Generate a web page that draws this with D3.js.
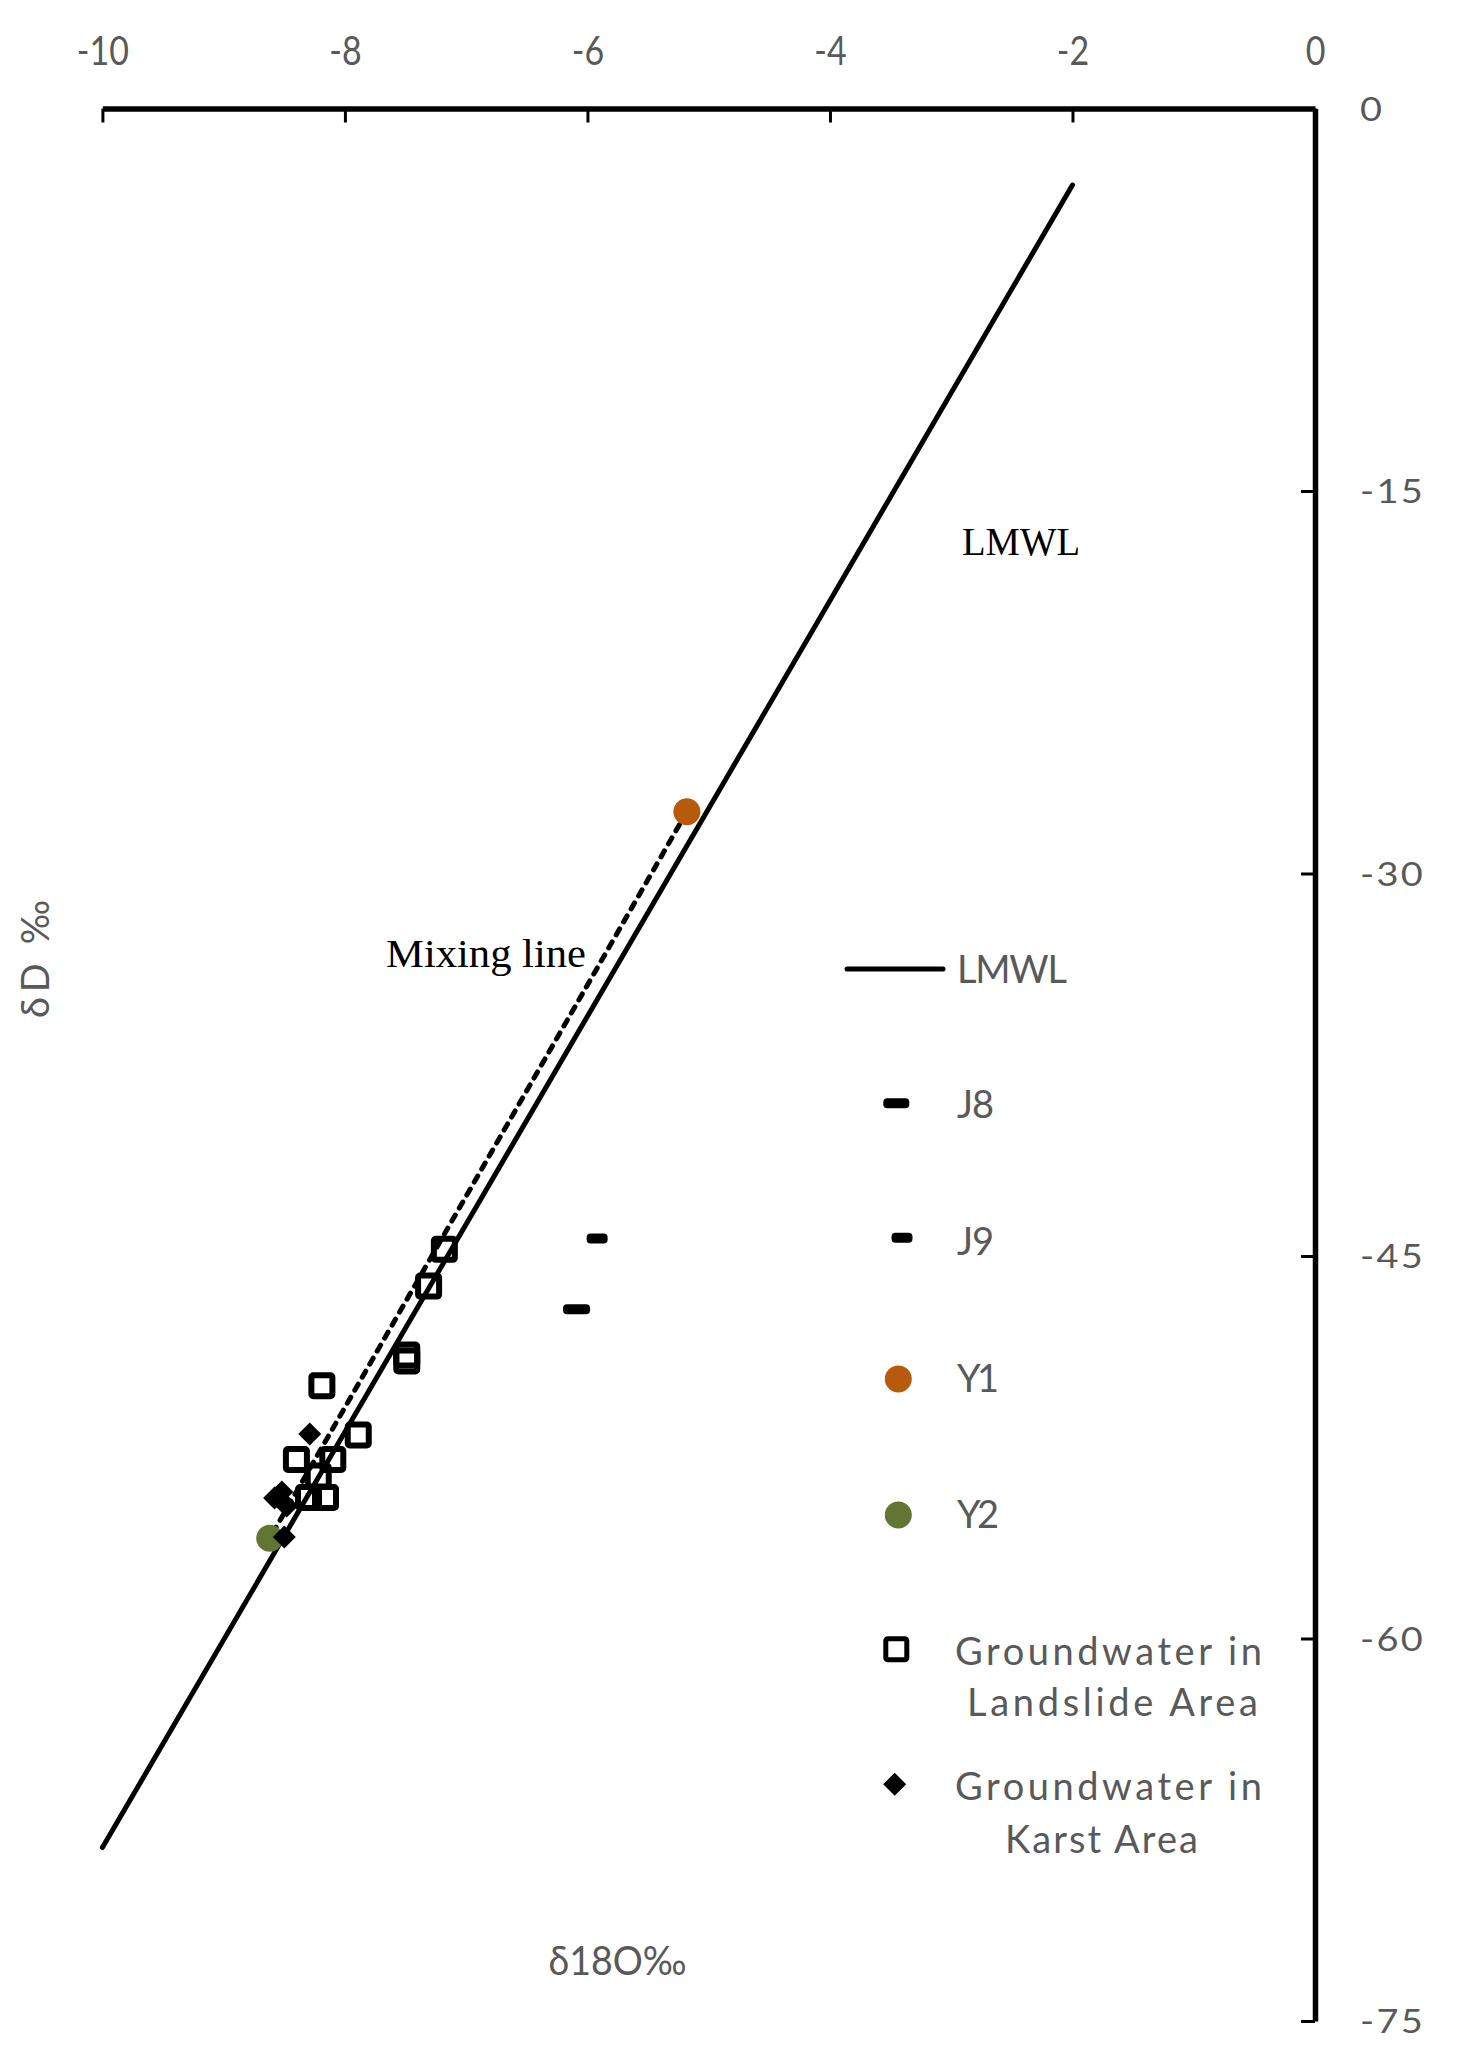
<!DOCTYPE html>
<html>
<head>
<meta charset="utf-8">
<script src="https://cdn.jsdelivr.net/npm/d3@7"></script>
<style>
  html, body { margin: 0; padding: 0; background: #fff; }
  svg { display: block; }
</style>
</head>
<body>
<svg id="chart" width="1458" height="2057"></svg>
<script>
// ---------- data ----------
const xTicks = [-10, -8, -6, -4, -2, 0];
const yTicks = [0, -15, -30, -45, -60, -75];

const lmwlX = [-10, -2];
const lmwlY = [-68.2, -3.0];

const j8X = [-6.09];
const j8Y = [-47.09];
const j9X = [-5.92];
const j9Y = [-44.31];

const y1X = [-5.18];
const y1Y = [-27.58];
const y2X = [-8.62];
const y2Y = [-56.07];

const landslideX = [-7.18, -7.31, -7.49, -7.49, -8.19, -7.89, -8.40, -8.10, -8.22, -8.30, -8.16];
const landslideY = [-44.74, -46.18, -48.88, -49.12, -50.09, -52.02, -52.98, -52.98, -53.63, -54.47, -54.47];

const karstX = [-8.29, -8.58, -8.52, -8.48, -8.50];
const karstY = [-51.98, -54.49, -54.25, -54.80, -56.02];

const legendLabels = ["LMWL", "J8", "J9", "Y1", "Y2", "Groundwater in|Landslide Area", "Groundwater in|Karst Area"];

// ---------- setup ----------
const svg = d3.select("#chart");
const SANS = "Lato, 'Open Sans', 'Noto Sans', sans-serif";
const SERIF = "'Liberation Serif', 'DejaVu Serif', serif";
const GREY = "#595959";
const ORANGE = "#B85A0C";
const GREEN = "#627533";

const x = d3.scaleLinear().domain([-10, 0]).range([102.4, 1315]);
const y = d3.scaleLinear().domain([0, -75]).range([108.5, 2021]);

// ---------- axes ----------
const xAxis = d3.axisTop(x).tickValues(xTicks).tickFormat(d3.format("d"))
  .tickSizeInner(-14).tickSizeOuter(0).tickPadding(44);
const gx = svg.append("g").attr("transform", `translate(0,${y(0)})`).call(xAxis);
gx.select(".domain").attr("stroke", "#000").attr("stroke-width", 5.5);
gx.selectAll(".tick line").attr("stroke", "#000").attr("stroke-width", 3);
gx.selectAll(".tick text")
  .attr("font-family", SANS).attr("font-size", 40).attr("fill", GREY)
  .text(d => d === 0 ? "0" : "-" + Math.abs(d))
  .attr("transform", "scale(0.85,1)");

const yAxis = d3.axisRight(y).tickValues(yTicks).tickFormat(d3.format("d"))
  .tickSizeInner(-14).tickSizeOuter(0).tickPadding(0);
const gy = svg.append("g").attr("transform", `translate(${x(0)},0)`).call(yAxis);
gy.select(".domain").attr("stroke", "#000").attr("stroke-width", 5.5);
gy.selectAll(".tick line").attr("stroke", "#000").attr("stroke-width", 3);
gy.selectAll(".tick text")
  .attr("font-family", SANS).attr("font-size", 33).attr("fill", GREY)
  .attr("x", null).attr("dy", "0.36em")
  .text(d => d === 0 ? "0" : "-" + Math.abs(d))
  .attr("letter-spacing", 2)
  .attr("transform", "translate(45,0) scale(1.15,1)");

// ---------- lines ----------
const line = d3.line().x(d => x(d[0])).y(d => y(d[1]));
svg.append("path")
  .datum(d3.zip(lmwlX, lmwlY))
  .attr("d", line).attr("fill", "none").attr("stroke", "#000")
  .attr("stroke-width", 5).attr("stroke-linecap", "round");

svg.append("path")
  .datum([[y1X[0], y1Y[0]], [y2X[0], y2Y[0]]])
  .attr("d", line).attr("fill", "none").attr("stroke", "#000")
  .attr("stroke-width", 5).attr("stroke-dasharray", "7,8").attr("stroke-linecap", "round");

// ---------- markers ----------
function dash(g, cx, cy, w) {
  g.append("rect").attr("x", cx - w / 2).attr("y", cy - 5).attr("width", w).attr("height", 10)
    .attr("rx", 4).attr("fill", "#000");
}
const gm = svg.append("g");
d3.zip(j8X, j8Y).forEach(d => dash(gm, x(d[0]), y(d[1]), 27));
d3.zip(j9X, j9Y).forEach(d => dash(gm, x(d[0]), y(d[1]), 21));

gm.selectAll("circle.y1").data(d3.zip(y1X, y1Y)).join("circle").attr("class", "y1")
  .attr("cx", d => x(d[0])).attr("cy", d => y(d[1])).attr("r", 13.5).attr("fill", ORANGE);
gm.selectAll("circle.y2").data(d3.zip(y2X, y2Y)).join("circle").attr("class", "y2")
  .attr("cx", d => x(d[0])).attr("cy", d => y(d[1])).attr("r", 13.5).attr("fill", GREEN);

gm.selectAll("rect.sq").data(d3.zip(landslideX, landslideY)).join("rect").attr("class", "sq")
  .attr("x", d => x(d[0]) - 10.5).attr("y", d => y(d[1]) - 10.5)
  .attr("width", 21).attr("height", 21).attr("rx", 2)
  .attr("fill", "none").attr("stroke", "#000").attr("stroke-width", 6);

gm.selectAll("path.dm").data(d3.zip(karstX, karstY)).join("path").attr("class", "dm")
  .attr("d", "M0,-11.5L11.5,0L0,11.5L-11.5,0Z")
  .attr("transform", d => `translate(${x(d[0])},${y(d[1])})`)
  .attr("fill", "#000");

// ---------- annotations ----------
svg.append("text").attr("x", 386).attr("y", 967)
  .attr("font-family", SERIF).attr("font-size", 40).attr("fill", "#000")
  .attr("textLength", 200).attr("lengthAdjust", "spacingAndGlyphs")
  .text("Mixing line");
svg.append("text").attr("x", 962).attr("y", 555)
  .attr("font-family", SERIF).attr("font-size", 40).attr("fill", "#000")
  .attr("textLength", 118).attr("lengthAdjust", "spacingAndGlyphs")
  .text("LMWL");

// axis titles
svg.append("text").attr("x", 617.5).attr("y", 1975).attr("text-anchor", "middle")
  .attr("font-family", SANS).attr("font-size", 40).attr("fill", GREY)
  .attr("textLength", 138).attr("lengthAdjust", "spacingAndGlyphs")
  .text("δ18O‰");
svg.append("text")
  .attr("transform", "translate(49,959) rotate(-90)").attr("text-anchor", "middle")
  .attr("font-family", SANS).attr("font-size", 38).attr("fill", GREY)
  .attr("textLength", 118).attr("lengthAdjust", "spacing")
  .text("δD  ‰");

// ---------- legend ----------
const lg = svg.append("g");
const legY = [969, 1103.3, 1237.7, 1379, 1515, 1649.3, 1784.3];
const textX = 957;
const fs = 38;
function legText(tx, ty, s, len) {
  const t = lg.append("text").attr("x", tx).attr("y", ty)
    .attr("font-family", SANS).attr("font-size", fs).attr("fill", GREY).text(s);
  if (len) t.attr("textLength", len).attr("lengthAdjust", "spacing");
}
// LMWL
lg.append("line").attr("x1", 847).attr("x2", 943).attr("y1", legY[0]).attr("y2", legY[0])
  .attr("stroke", "#000").attr("stroke-width", 5).attr("stroke-linecap", "round");
legText(textX, legY[0] + 14, legendLabels[0], 110);
// J8
dash(lg, 896.3, legY[1], 26);
legText(textX, legY[1] + 15, legendLabels[1], 37);
// J9
dash(lg, 902, legY[2], 21);
legText(textX, legY[2] + 17, legendLabels[2], 37);
// Y1
lg.append("circle").attr("cx", 898.3).attr("cy", legY[3]).attr("r", 13.5).attr("fill", ORANGE);
legText(textX, legY[3] + 13, legendLabels[3], 42);
// Y2
lg.append("circle").attr("cx", 898.3).attr("cy", legY[4]).attr("r", 13.5).attr("fill", GREEN);
legText(textX, legY[4] + 13, legendLabels[4], 42);
// Landslide
lg.append("rect").attr("x", 896.3 - 10.5).attr("y", legY[5] - 10.5).attr("width", 21).attr("height", 21)
  .attr("rx", 2).attr("fill", "none").attr("stroke", "#000").attr("stroke-width", 5);
const ls = legendLabels[5].split("|");
legText(955, 1665, ls[0], 307);
legText(967, 1716, ls[1], 291);
// Karst
lg.append("path").attr("d", "M0,-11.5L11.5,0L0,11.5L-11.5,0Z")
  .attr("transform", `translate(894.7,${legY[6]})`).attr("fill", "#000");
const ks = legendLabels[6].split("|");
legText(955, 1800, ks[0], 307);
legText(1005, 1852.7, ks[1], 193);
</script>
</body>
</html>
